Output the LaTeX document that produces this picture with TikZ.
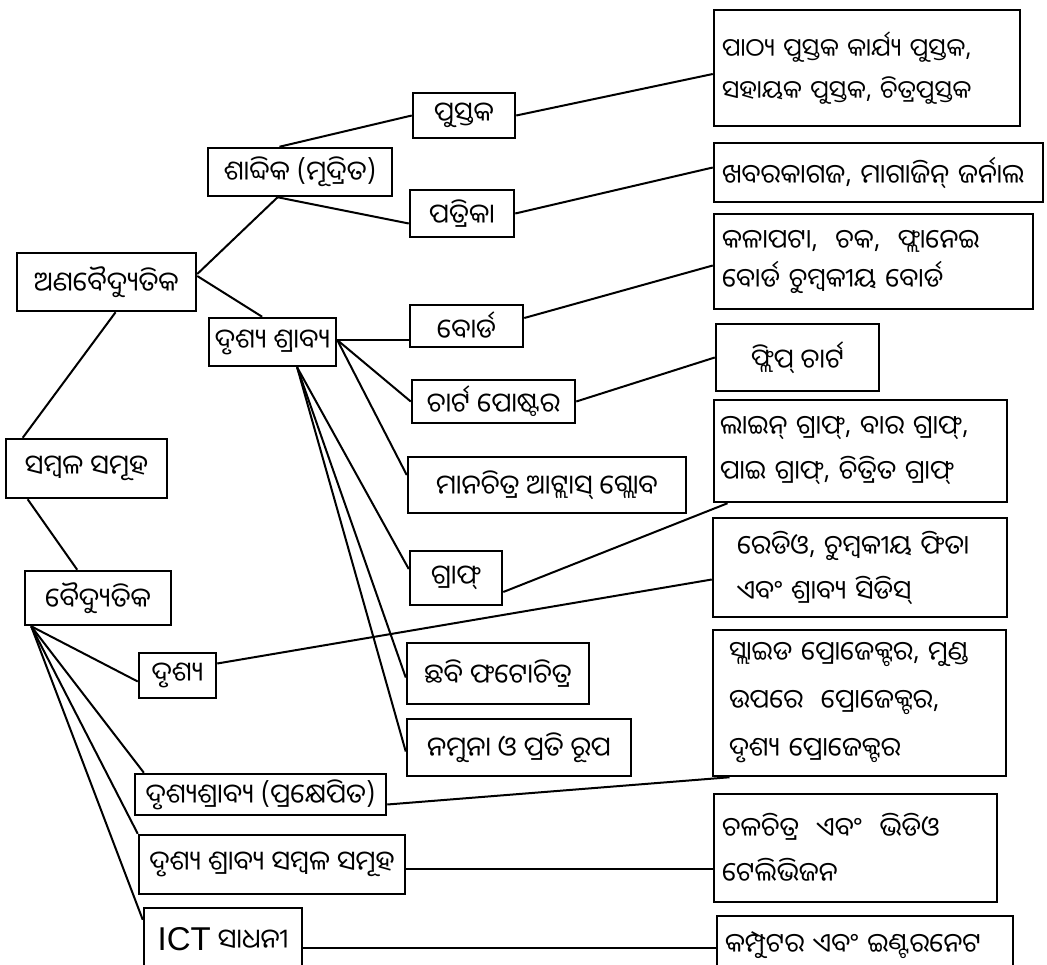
\documentclass[tikz,border=0pt]{standalone}
\usepackage{fontspec}
\setmainfont{Liberation Sans}
\newfontfamily\odia[Script=Oriya]{Noto Sans Oriya UI}
\usetikzlibrary{calc}

\begin{document}
\begin{tikzpicture}
    [x=1pt, y=-1pt,
    boxnode/.style={rectangle, draw=black, line width=2.5pt, inner sep=0pt, font=\odia\fontsize{27}{30}\selectfont},
    listnode/.style={boxnode, align=left, inner xsep=8pt, font=\odia\fontsize{26.5}{45}\selectfont},
    link/.style={line width=2pt}]

    \useasboundingbox (0,0) rectangle (1047,964);

    %Nodes, left column
    \node[boxnode, minimum width=179pt, minimum height=58pt](anab) at (106.5,282) {ଅଣବୈଦ୍ୟୁତିକ};
    \node[boxnode, minimum width=161pt, minimum height=59pt](sambala) at (86.5,468.5) {ସମ୍ବଳ ସମୂହ};
    \node[boxnode, minimum width=146pt, minimum height=54pt](baidyu) at (98,598) {ବୈଦ୍ୟୁତିକ};

    %Nodes, second column
    \node[boxnode, minimum width=184pt, minimum height=48pt](shabdik) at (300,172) {ଶାବ୍ଦିକ (ମୂଦ୍ରିତ)};
    \node[boxnode, minimum width=127pt, minimum height=48pt](drsh) at (272.5,342) {ଦୃଶ୍ୟ ଶ୍ରାବ୍ୟ};
    \node[boxnode, minimum width=77pt, minimum height=45pt](drushya) at (177.5,675.5) {ଦୃଶ୍ୟ};
    \node[boxnode, minimum width=251pt, minimum height=41pt](prak) at (260.5,794.5) {ଦୃଶ୍ୟଶ୍ରାବ୍ୟ (ପ୍ରକ୍ଷେପିତ)};
    \node[boxnode, minimum width=266pt, minimum height=59pt](avs) at (272,864.5) {ଦୃଶ୍ୟ ଶ୍ରାବ୍ୟ ସମ୍ବଳ ସମୂହ};
    \node[boxnode, minimum width=158pt, minimum height=63pt](ict) at (223,939.5) {{\fontsize{33}{34}\selectfont\rmfamily ICT} ସାଧନୀ};

    %Nodes, third column
    \node[boxnode, minimum width=102pt, minimum height=45pt](pustak) at (464,115.5) {ପୁସ୍ତକ};
    \node[boxnode, minimum width=104pt, minimum height=47pt](patrika) at (462,213.5) {ପତ୍ରିକା};
    \node[boxnode, minimum width=113pt, minimum height=42pt](board) at (466.5,326) {ବୋର୍ଡ};
    \node[boxnode, minimum width=163pt, minimum height=43pt](chart) at (493.5,401.5) {ଚାର୍ଟ ପୋଷ୍ଟର};
    \node[boxnode, minimum width=278pt, minimum height=56pt](mana) at (547,485) {ମାନଚିତ୍ର ଆଟ୍ଲାସ୍ ଗ୍ଲୋବ};
    \node[boxnode, minimum width=92pt, minimum height=54pt](graph) at (456,578) {ଗ୍ରାଫ୍};
    \node[boxnode, minimum width=182pt, minimum height=61pt](chhabi) at (498,673.5) {ଛବି ଫଟୋଚିତ୍ର};
    \node[boxnode, minimum width=224pt, minimum height=57pt](namuna) at (519,747.5) {ନମୁନା ଓ ପ୍ରତି ରୂପ};

    %Nodes, right column
    \node[listnode, minimum height=116pt, text width=290pt, font=\odia\fontsize{25}{42}\selectfont](pathya) at (867,68) {ପାଠ୍ୟ ପୁସ୍ତକ କାର୍ଯ୍ୟ ପୁସ୍ତକ,\\ ସହାୟକ ପୁସ୍ତକ, ଚିତ୍ରପୁସ୍ତକ};
    \node[listnode, minimum height=59pt, text width=313pt](khabara) at (878.5,172.5) {ଖବରକାଗଜ, ମାଗାଜିନ୍ ଜର୍ନାଲ};
    \node[listnode, minimum height=95pt, text width=303pt, font=\odia\fontsize{26.5}{39}\selectfont](kalapata) at (873.5,261.5) {କଳାପଟା,~~ଚକ,~~ଫ୍ଲାନେଇ\\ ବୋର୍ଡ ଚୁମ୍ବକୀୟ ବୋର୍ଡ};
    \node[boxnode, minimum width=163pt, minimum height=67pt](flip) at (797.5,357.5) {ଫ୍ଲିପ୍ ଚାର୍ଟ};
    \node[listnode, minimum height=102pt, inner xsep=6pt, text width=281pt](lgraph) at (860.5,451) {ଲାଇନ୍ ଗ୍ରାଫ୍, ବାର ଗ୍ରାଫ୍,\\ ପାଇ ଗ୍ରାଫ୍, ଚିତ୍ରିତ ଗ୍ରାଫ୍};
    \node[listnode, minimum height=99pt, inner xsep=24pt, text width=246pt](radio) at (860,567.5) {ରେଡିଓ, ଚୁମ୍ବକୀୟ ଫିତା\\ ଏବଂ ଶ୍ରାବ୍ୟ ସିଡିସ୍};
    \node[listnode, minimum height=146pt, inner xsep=16pt, text width=261pt, font=\odia\fontsize{26.5}{48}\selectfont](slide) at (859.5,703) {ସ୍ଲାଇଡ ପ୍ରୋଜେକ୍ଟର, ମୁଣ୍ଡ\\ ଉପରେ~~ପ୍ରୋଜେକ୍ଟର,\\ ଦୃଶ୍ୟ ପ୍ରୋଜେକ୍ଟର};
    \node[listnode, minimum height=108pt, text width=267pt](chal) at (855.5,848) {ଚଳଚିତ୍ର~~ଏବଂ~~ଭିଡିଓ\\ ଟେଲିଭିଜନ};
    \node[listnode, minimum height=58pt, text width=280pt](comp) at (865,945) {କମ୍ପୁଟର ଏବଂ ଇଣ୍ଟରନେଟ};

    %Branch points
    \coordinate (drshR) at ([yshift=2pt]drsh.east);
    \coordinate (drshB) at ($(drsh.south west)!0.69!(drsh.south east)$);
    \coordinate (shabdikB) at ($(shabdik.south west)!0.38!(shabdik.south east)$);
    \coordinate (baidyuB) at ($(baidyu.south west)!0.05!(baidyu.south east)$);
    \coordinate (avsR) at ([yshift=-4pt]avs.east);
    \coordinate (ictR) at ([yshift=-8pt]ict.east);

    %Connectors
    \draw[link] ($(sambala.north west)!0.11!(sambala.north east)$) -- ($(anab.south west)!0.55!(anab.south east)$);
    \draw[link] ($(sambala.south west)!0.14!(sambala.south east)$) -- ($(baidyu.north west)!0.36!(baidyu.north east)$);
    \draw[link] ([yshift=8pt]anab.east) -- (shabdikB);
    \draw[link] ([yshift=6pt]anab.east) -- ($(drsh.north west)!0.42!(drsh.north east)$);
    \draw[link] ($(shabdik.north west)!0.39!(shabdik.north east)$) -- (pustak.west);
    \draw[link] (shabdikB) -- ([yshift=-10pt]patrika.west);
    \draw[link] (pustak.east) -- ([yshift=-6pt]pathya.west);
    \draw[link] (patrika.east) -- ([yshift=5pt]khabara.west);
    \draw[link] (drshR) -- (drshR -| board.west);
    \draw[link] (drshR) -- (chart.west);
    \draw[link] (drshR) -- ([yshift=10pt]mana.west);
    \draw[link] (drshB) -- ([yshift=9pt]graph.west);
    \draw[link] (drshB) -- ([yshift=-4pt]chhabi.west);
    \draw[link] (drshB) -- ([yshift=-4pt]namuna.west);
    \draw[link] ([yshift=8pt]board.east) -- ([yshift=-4pt]kalapata.west);
    \draw[link] (chart.east) -- (flip.west);
    \draw[link] ([yshift=-14pt]graph.east) -- ($(lgraph.south west)!0.05!(lgraph.south east)$);
    \draw[link] (baidyuB) -- ([yshift=-6pt]drushya.west);
    \draw[link] (baidyuB) -- ($(prak.north west)!0.04!(prak.north east)$);
    \draw[link] (baidyuB) -- (avs.north west);
    \draw[link] (baidyuB) -- ([yshift=-13pt]ict.north west);
    \draw[link] ([yshift=12pt]drushya.east) -- ([yshift=-12pt]radio.west);
    \draw[link] ([yshift=-10pt]prak.east) -- ($(slide.south west)!0.06!(slide.south east)$);
    \draw[link] (avsR) -- (avsR -| chal.west);
    \draw[link] (ictR) -- (ictR -| comp.west);
\end{tikzpicture}
\end{document}
